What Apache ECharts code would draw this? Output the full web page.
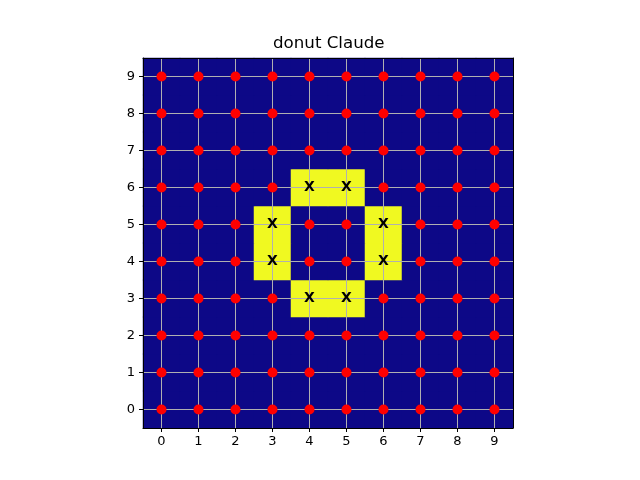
<!DOCTYPE html>
<html><head><meta charset="utf-8">
<script src="https://cdn.jsdelivr.net/npm/echarts@6/dist/echarts.min.js"></script>
<style>html,body{margin:0;padding:0;background:#fff}#c{width:640px;height:480px}</style>
</head><body><div id="c"></div>
<script>
const titleText = 'donut Claude';
const xCategories = ['0','1','2','3','4','5','6','7','8','9'];
const yCategories = ['0','1','2','3','4','5','6','7','8','9'];
// rows listed from y=0 (bottom) to y=9 (top); 1 = donut cell
const gridRows = [
  [0,0,0,0,0,0,0,0,0,0],
  [0,0,0,0,0,0,0,0,0,0],
  [0,0,0,0,0,0,0,0,0,0],
  [0,0,0,0,1,1,0,0,0,0],
  [0,0,0,1,0,0,1,0,0,0],
  [0,0,0,1,0,0,1,0,0,0],
  [0,0,0,0,1,1,0,0,0,0],
  [0,0,0,0,0,0,0,0,0,0],
  [0,0,0,0,0,0,0,0,0,0],
  [0,0,0,0,0,0,0,0,0,0]
];
const markLabel = 'X';

const heatData = [], dotData = [], xData = [];
gridRows.forEach((row, y) => row.forEach((v, x) => {
  heatData.push([x, y, v]);
  if (v) xData.push([x, y]); else dotData.push([x, y]);
}));

const font = 'DejaVu Sans';
const chart = echarts.init(document.getElementById('c'), null, {renderer: 'canvas'});
chart.setOption({
  animation: false,
  backgroundColor: '#ffffff',
  title: {text: titleText, left: 268, top: 30, padding: 5,
    textStyle: {fontFamily: font, fontSize: 16.67, fontWeight: 'normal', color: '#000'}},
  grid: {left: 143, top: 58, width: 370, height: 370, containLabel: false,
    show: true, backgroundColor: '#0d0887', borderWidth: 0},
  xAxis: [{
    type: 'category', data: xCategories, position: 'bottom', z: 5,
    axisLine: {show: true, lineStyle: {color: '#000', width: 1}},
    axisTick: {show: true, alignWithLabel: true, length: 4, lineStyle: {color: '#000'}},
    axisLabel: {fontFamily: font, fontSize: 13, color: '#000', margin: 7},
    splitLine: {show: true, alignWithLabel: true, lineStyle: {color: '#b0b0b0', width: 1}}
  }, {
    type: 'category', data: xCategories, position: 'top', z: 5,
    axisLine: {show: true, lineStyle: {color: '#000', width: 1}},
    axisTick: {show: false}, axisLabel: {show: false}, splitLine: {show: false}
  }],
  yAxis: [{
    type: 'category', data: yCategories, position: 'left', z: 5,
    axisLine: {show: true, lineStyle: {color: '#000', width: 1}},
    axisTick: {show: true, alignWithLabel: true, length: 4, lineStyle: {color: '#000'}},
    axisLabel: {fontFamily: font, fontSize: 13, color: '#000', margin: 8},
    splitLine: {show: true, alignWithLabel: true, lineStyle: {color: '#b0b0b0', width: 1}}
  }, {
    type: 'category', data: yCategories, position: 'right', z: 5,
    axisLine: {show: true, lineStyle: {color: '#000', width: 1}},
    axisTick: {show: false}, axisLabel: {show: false}, splitLine: {show: false}
  }],
  visualMap: {show: false, min: 0, max: 1, seriesIndex: 0, inRange: {color: ['#0d0887', '#f0f921']}},
  series: [{
    type: 'heatmap', data: heatData, z: 1, itemStyle: {borderWidth: 0},
    emphasis: {disabled: true}
  }, {
    type: 'scatter', data: dotData, z: 10, symbol: 'circle', symbolSize: 10,
    itemStyle: {color: '#ff0000', opacity: 1}
  }, {
    type: 'scatter', data: xData, z: 10, symbolSize: 0,
    label: {show: true, position: 'inside', formatter: markLabel,
      fontFamily: font, fontSize: 14, fontWeight: 'bold', color: '#000', opacity: 1}
  }]
});
</script></body></html>
